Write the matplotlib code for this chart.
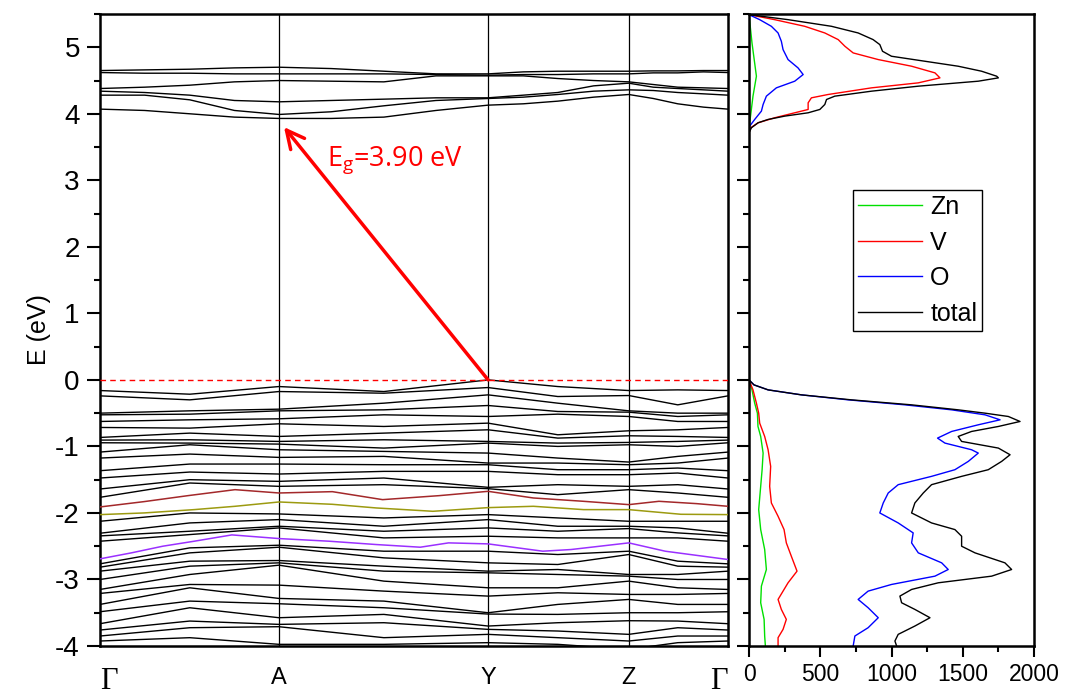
import matplotlib
matplotlib.use("Agg")
import matplotlib.pyplot as plt
from matplotlib.ticker import MultipleLocator

plt.rcParams['font.family'] = ['Liberation Sans', 'DejaVu Sans']
plt.rcParams['axes.unicode_minus'] = False

# ---------------- band structure data ----------------
k_nodes = [0.0, 0.285, 0.618, 0.842, 1.0]
k_labels = ['Γ', 'A', 'Y', 'Z', 'Γ']

# valence bands: sampled k columns (Γ, Γ-A, A, A-Y, Y, Y-Z, Z, Z-Γ, Γ)
k_cols = [0.0, 0.143, 0.285, 0.452, 0.618, 0.729, 0.842, 0.920, 1.0]

vb_G = [-0.16, -0.24, -0.50, -0.525, -0.625, -0.715, -0.865, -0.905, -0.945, -1.085, -1.175, -1.365, -1.475, -1.64, -1.765,
        -2.125, -2.305, -2.345, -2.425,
        -2.765, -2.815, -2.875, -3.0, -3.15, -3.21, -3.375, -3.485, -3.665, -3.76, -3.85, -3.925]
vb_GA = [-0.215, -0.30, -0.465, -0.515, -0.60, -0.725, -0.80, -0.90, -0.95, -0.975, -1.115, -1.265, -1.385, -1.50, -1.55,
         -2.00, -2.15, -2.275, -2.325,
         -2.525, -2.60, -2.725, -2.80, -2.925, -3.075, -3.125, -3.325, -3.425, -3.625, -3.725, -3.875]
vb_A = [-0.10, -0.175, -0.44, -0.465, -0.585, -0.66, -0.85, -0.925, -0.965, -1.05, -1.165, -1.265, -1.415, -1.525, -1.60,
        -2.015, -2.10, -2.20, -2.225,
        -2.485, -2.515, -2.715, -2.75, -2.785, -3.085, -3.285, -3.365, -3.575, -3.675, -3.71, -3.975]
vb_AY = [-0.175, -0.20, -0.35, -0.45, -0.525, -0.70, -0.80, -0.90, -1.025, -1.075, -1.15, -1.275, -1.375, -1.475, -1.575,
         -2.075, -2.20, -2.275, -2.375,
         -2.575, -2.675, -2.80, -2.875, -3.025, -3.175, -3.325, -3.425, -3.525, -3.65, -3.875, -3.975]
vb_Y = [0.0, -0.115, -0.225, -0.385, -0.55, -0.65, -0.75, -0.925, -0.95, -1.10, -1.25, -1.275, -1.375, -1.615, -1.635,
        -2.025, -2.10, -2.225, -2.35,
        -2.575, -2.75, -2.875, -2.90, -3.125, -3.25, -3.50, -3.52, -3.70, -3.75, -3.825, -3.95]
vb_YZ = [-0.10, -0.25, -0.35, -0.475, -0.515, -0.825, -0.875, -0.95, -1.0, -1.175, -1.25, -1.35, -1.425, -1.575, -1.725,
         -2.075, -2.20, -2.275, -2.375,
         -2.625, -2.775, -2.85, -2.925, -3.125, -3.20, -3.375, -3.525, -3.65, -3.775, -3.875, -3.975]
vb_Z = [-0.16, -0.235, -0.465, -0.485, -0.55, -0.765, -0.84, -0.94, -0.975, -1.235, -1.275, -1.35, -1.425, -1.60, -1.65,
        -2.125, -2.20, -2.235, -2.375,
        -2.575, -2.625, -2.925, -2.95, -3.025, -3.225, -3.30, -3.50, -3.62, -3.825, -3.925, -4.05]
vb_ZG = [-0.15, -0.375, -0.50, -0.55, -0.625, -0.75, -0.85, -0.925, -1.0, -1.15, -1.25, -1.325, -1.40, -1.575, -1.70,
         -2.125, -2.225, -2.30, -2.375,
         -2.725, -2.80, -2.925, -3.0, -3.125, -3.225, -3.375, -3.50, -3.625, -3.725, -3.85, -3.95]

# conduction bands: finer k columns
cb_k = [0.0, 0.071, 0.143, 0.214, 0.285, 0.368, 0.452, 0.535, 0.618,
        0.674, 0.729, 0.786, 0.842, 0.881, 0.920, 0.961, 1.0]
cb_c00 = [4.65, 4.62, 4.38, 4.34, 4.28, 4.07]
cb_c01 = [4.66, 4.61, 4.40, 4.32, 4.28, 4.05]
cb_c02 = [4.67, 4.61, 4.43, 4.28, 4.21, 4.00]
cb_c03 = [4.69, 4.60, 4.48, 4.20, 4.05, 3.95]
cb_c04 = [4.70, 4.60, 4.50, 4.18, 3.99, 3.93]
cb_c05 = [4.68, 4.60, 4.49, 4.20, 4.03, 3.93]
cb_c06 = [4.64, 4.60, 4.48, 4.22, 4.12, 3.95]
cb_c07 = [4.60, 4.59, 4.57, 4.24, 4.20, 4.05]
cb_c08 = [4.60, 4.58, 4.57, 4.24, 4.23, 4.13]
cb_c09 = [4.63, 4.59, 4.57, 4.28, 4.25, 4.15]
cb_c10 = [4.64, 4.59, 4.53, 4.32, 4.29, 4.19]
cb_c11 = [4.64, 4.60, 4.50, 4.42, 4.34, 4.25]
cb_c12 = [4.64, 4.60, 4.48, 4.46, 4.36, 4.29]
cb_c13 = [4.645, 4.615, 4.44, 4.40, 4.35, 4.23]
cb_c14 = [4.645, 4.615, 4.40, 4.38, 4.32, 4.15]
cb_c15 = [4.65, 4.63, 4.39, 4.36, 4.30, 4.10]
cb_c16 = [4.65, 4.62, 4.38, 4.34, 4.28, 4.07]

# highlighted bands
red_k = [0, 0.07, 0.14, 0.215, 0.285, 0.37, 0.45, 0.54, 0.618, 0.69, 0.77, 0.842, 0.89, 0.95, 1.0]
red_E = [-1.91, -1.83, -1.74, -1.65, -1.70, -1.68, -1.80, -1.74, -1.675, -1.775, -1.825, -1.875, -1.825, -1.86, -1.90]
yel_k = [0, 0.07, 0.15, 0.215, 0.285, 0.37, 0.44, 0.53, 0.618, 0.69, 0.77, 0.842, 0.925, 1.0]
yel_E = [-2.025, -2.0, -1.95, -1.90, -1.835, -1.87, -1.925, -1.975, -1.92, -1.90, -1.95, -1.95, -2.02, -2.025]
pur_k = [0, 0.05, 0.1, 0.15, 0.21, 0.285, 0.365, 0.44, 0.51, 0.555, 0.618, 0.705, 0.75, 0.842, 0.90, 1.0]
pur_E = [-2.69, -2.60, -2.50, -2.425, -2.33, -2.385, -2.425, -2.475, -2.515, -2.45, -2.465, -2.575, -2.55, -2.45, -2.575, -2.70]

# ---------------- DOS data ----------------
tot_E_up = [5.49, 5.415, 5.315, 5.215, 5.115, 5.04, 4.94, 4.865, 4.79, 4.715, 4.64, 4.565, 4.54, 4.49, 4.415, 4.34,
            4.265, 4.215, 4.14, 4.065, 4.015, 3.965, 3.915, 3.865, 3.79, 3.715]
tot_D_up = [0, 274, 579, 766, 871, 918, 937, 1000, 1234, 1468, 1632, 1738, 1750, 1609, 1188, 860,
            602, 544, 532, 497, 415, 251, 134, 64, 17, 0]
tot_E_lo = [0.0, -0.075, -0.15, -0.225, -0.30, -0.375, -0.45, -0.50, -0.55, -0.625, -0.70, -0.775, -0.85, -0.925,
            -1.025, -1.125, -1.225, -1.35, -1.45, -1.575, -1.70, -1.85, -2.0, -2.15, -2.25, -2.35, -2.50, -2.60,
            -2.75, -2.85, -2.95, -3.05, -3.15, -3.25, -3.35, -3.45, -3.575, -3.70, -3.825, -3.925, -4.0]
tot_D_lo = [0, 35, 134, 368, 719, 1141, 1468, 1656, 1820, 1902, 1750, 1562, 1468, 1492,
            1750, 1832, 1773, 1679, 1492, 1281, 1223, 1164, 1141, 1281, 1445, 1492, 1492, 1586,
            1796, 1843, 1703, 1328, 1141, 1059, 1071, 1164, 1270, 1164, 1047, 1024, 1036]

v_E_up = [5.49, 5.415, 5.315, 5.215, 5.115, 5.015, 4.915, 4.815, 4.715, 4.615, 4.54, 4.465, 4.39, 4.29, 4.24,
          4.165, 4.065, 4.015, 3.94, 3.865, 3.79, 3.715]
v_D_up = [0, 180, 391, 532, 626, 673, 731, 907, 1141, 1305, 1340, 1188, 860, 555, 438,
          415, 415, 321, 180, 64, 12, 0]
v_E_lo = [0.0, -0.15, -0.35, -0.50, -0.65, -0.85, -1.05, -1.30, -1.60, -1.85, -2.05, -2.25, -2.45, -2.65,
          -2.875, -3.05, -3.30, -3.45, -3.60, -3.75, -3.875, -4.0]
v_D_lo = [0, 28, 52, 68, 75, 110, 134, 152, 145, 157, 204, 246, 262, 297,
          337, 274, 204, 227, 262, 239, 204, 204]

o_E_up = [5.49, 5.415, 5.315, 5.215, 5.09, 4.965, 4.815, 4.69, 4.59, 4.49, 4.39, 4.265, 4.14, 4.04, 3.915, 3.815, 3.74]
o_D_up = [0, 75, 157, 204, 227, 239, 274, 344, 380, 321, 192, 122, 99, 87, 40, 5, 0]
o_E_lo = [0.0, -0.075, -0.15, -0.225, -0.30, -0.375, -0.45, -0.525, -0.60, -0.675, -0.775, -0.875, -0.95, -1.05,
          -1.10, -1.225, -1.35, -1.45, -1.575, -1.70, -1.85, -2.0, -2.15, -2.30, -2.45, -2.60, -2.75, -2.85,
          -2.95, -3.075, -3.175, -3.30, -3.425, -3.575, -3.725, -3.85, -4.0]
o_D_lo = [0, 35, 134, 368, 696, 1094, 1422, 1656, 1762, 1609, 1422, 1323, 1375, 1562,
          1609, 1539, 1445, 1281, 1047, 977, 942, 918, 1047, 1152, 1141, 1188, 1352, 1398,
          1305, 1000, 836, 766, 836, 907, 836, 743, 731]

zn_E_up = [5.49, 5.065, 4.565, 4.265, 3.865, 3.74]
zn_D_up = [0, 21, 52, 28, 5, 0]
zn_E_lo = [0.0, -0.15, -0.35, -0.50, -0.70, -0.85, -1.10, -1.35, -1.60, -1.95, -2.25, -2.55, -2.85, -3.10,
           -3.35, -3.60, -3.85, -4.0]
zn_D_lo = [0, 21, 40, 59, 63, 82, 99, 92, 82, 68, 82, 110, 122, 87, 82, 106, 110, 115]

# ---------------- figure ----------------
fig = plt.figure(figsize=(10.66, 6.97), dpi=100)
ax = fig.add_axes([100 / 1066, 1 - 646 / 697, 628 / 1066, 632 / 697])
ax2 = fig.add_axes([749 / 1066, 1 - 646 / 697, 285 / 1066, 632 / 697])

ylim = (-4, 5.5)

# band lines
vb_cols = [vb_G, vb_GA, vb_A, vb_AY, vb_Y, vb_YZ, vb_Z, vb_ZG, vb_G]
for i in range(len(vb_G)):
    ax.plot(k_cols, [c[i] for c in vb_cols], color='black', lw=1.0, zorder=2)
cb_cols = [cb_c00, cb_c01, cb_c02, cb_c03, cb_c04, cb_c05, cb_c06, cb_c07, cb_c08,
           cb_c09, cb_c10, cb_c11, cb_c12, cb_c13, cb_c14, cb_c15, cb_c16]
for i in range(len(cb_c00)):
    ax.plot(cb_k, [c[i] for c in cb_cols], color='black', lw=1.0, zorder=2)
ax.plot(red_k, red_E, color='#a3282a', lw=1.1, zorder=3)
ax.plot(yel_k, yel_E, color='#9c9a10', lw=1.1, zorder=3)
ax.plot(pur_k, pur_E, color='#9a30ff', lw=1.1, zorder=3)

for kn in k_nodes[1:-1]:
    ax.axvline(kn, color='black', lw=0.9, zorder=1)
ax.axhline(0, color='red', lw=1.0, ls=(0, (4, 3)), zorder=4)

ax.annotate('', xy=(0.293, 3.80), xytext=(0.618, 0.0),
            arrowprops=dict(arrowstyle='->', color='red', lw=2.5, mutation_scale=32,
                            shrinkA=0, shrinkB=0), zorder=5)
ax.text(0.362, 3.23, r'E$_{\mathregular{g}}$=3.90 eV', color='red', fontsize=19.5,
        ha='left', va='baseline', family=['Open Sans', 'DejaVu Sans'])

ax.set_xlim(0, 1)
ax.set_ylim(*ylim)
ax.set_xticks(k_nodes)
ax.set_xticklabels(k_labels)
ax.tick_params(axis='x', length=0, pad=15, labelsize=17)
for j, lab in enumerate(ax.get_xticklabels()):
    if lab.get_text() == 'Γ':
        lab.set_fontfamily(['Liberation Serif', 'DejaVu Serif'])
        lab.set_fontsize(22)
        lab.set_ha('left' if j == 0 else 'right')
ax.yaxis.set_major_locator(MultipleLocator(1))
ax.yaxis.set_minor_locator(MultipleLocator(0.5))
ax.tick_params(axis='y', which='major', direction='out', length=9.5, width=1.5, labelsize=20, pad=5)
ax.tick_params(axis='y', which='minor', direction='out', length=4.5, width=1.5)
ax.set_ylabel('E (eV)', fontsize=18, labelpad=3)
for s in ax.spines.values():
    s.set_linewidth(1.8)

# DOS
ax2.plot(zn_D_up, zn_E_up, color='#00e000', lw=1.0)
ax2.plot(zn_D_lo, zn_E_lo, color='#00e000', lw=1.0, label='Zn')
ax2.plot(v_D_up, v_E_up, color='red', lw=1.0)
ax2.plot(v_D_lo, v_E_lo, color='red', lw=1.0, label='V')
ax2.plot(o_D_up, o_E_up, color='blue', lw=1.0)
ax2.plot(o_D_lo, o_E_lo, color='blue', lw=1.0, label='O')
ax2.plot(tot_D_up, tot_E_up, color='black', lw=1.0)
ax2.plot(tot_D_lo, tot_E_lo, color='black', lw=1.0, label='total')

ax2.set_xlim(0, 2000)
ax2.set_ylim(*ylim)
ax2.xaxis.set_major_locator(MultipleLocator(500))
ax2.xaxis.set_minor_locator(MultipleLocator(250))
ax2.yaxis.set_major_locator(MultipleLocator(1))
ax2.yaxis.set_minor_locator(MultipleLocator(0.5))
ax2.tick_params(axis='x', which='major', direction='out', length=8, width=1.5, labelsize=16.5, pad=4)
ax2.tick_params(axis='x', which='minor', direction='out', length=4.5, width=1.5)
ax2.tick_params(axis='y', which='major', direction='out', length=9, width=1.5, labelleft=False)
ax2.tick_params(axis='y', which='minor', direction='out', length=4.5, width=1.5)
for s in ax2.spines.values():
    s.set_linewidth(1.8)

leg = ax2.legend(loc='upper left', bbox_to_anchor=(0.365, 0.7215), fontsize=18, frameon=True,
                 fancybox=False, framealpha=1, edgecolor='black', handlelength=2.56,
                 handletextpad=0.33, borderpad=0.2, labelspacing=0.46, borderaxespad=0)
leg.get_frame().set_linewidth(1.0)

fig.savefig('out.png', dpi=100)
